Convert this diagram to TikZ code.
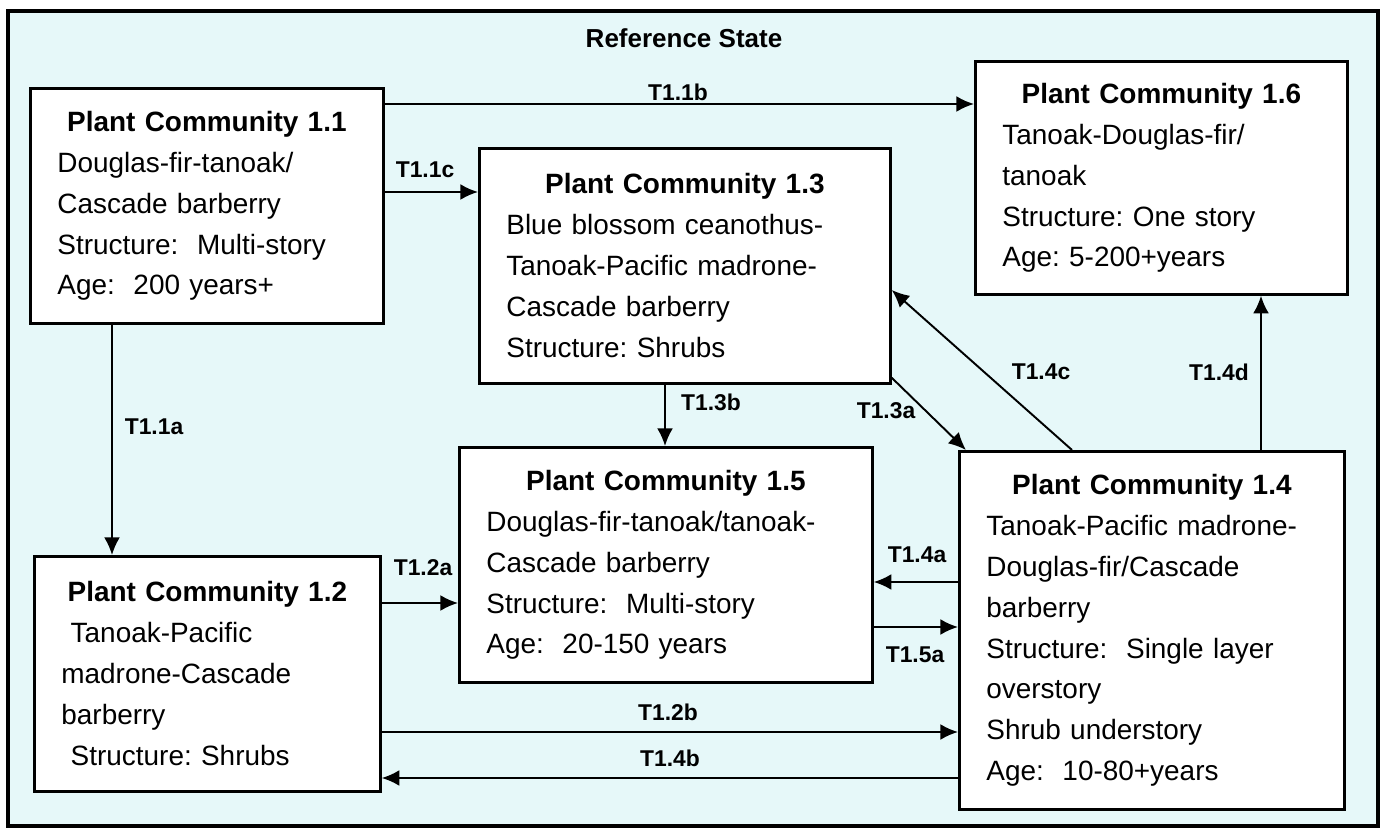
\documentclass[tikz,border=0pt]{standalone}
\usepackage[rgb]{xcolor}
\usepackage{fontspec}
\setmainfont{Liberation Sans}
\usepackage{tikz}
\usetikzlibrary{arrows.meta}
\frenchspacing

\definecolor{statebg}{RGB}{230,248,249}

\tikzset{
  community/.style={draw, line width=1.6pt, fill=white, anchor=north west,
    align=left, inner xsep=0.54cm, inner ysep=0pt, minimum height=4.7cm,
    font=\fontsize{15.9pt}{23.3pt}\selectfont},
  trans/.style={line width=1.1pt, -{Latex[length=10pt,width=9pt]}},
  translabel/.style={font=\fontsize{13pt}{15pt}\selectfont\bfseries}
}

\newcommand{\pctitle}[1]{\hfill\textbf{Plant Community #1}\hfill\null\\}

\begin{document}
\begin{tikzpicture}[x=0.02cm,y=-0.02cm]

\useasboundingbox (0,0) rectangle (1389,830);

% Draws the outer frame of the reference state
\draw [line width=2.2pt, fill=statebg] (8,11) rectangle (1378,826);
\node[translabel, font=\fontsize{14.8pt}{17pt}\selectfont\bfseries] (refstate) at (684,38) {Reference State};

% Draws the six plant community boxes
\node[community, text width=5.98cm] (pc11) at (29,87) {\pctitle{1.1}
Douglas-fir-tanoak/\\
Cascade barberry\\
Structure:\ \ Multi-story\\
Age:\ \ 200 years+};

\node[community, text width=5.84cm] (pc12) at (33,555) {\pctitle{1.2}
\ Tanoak-Pacific\\
madrone-Cascade\\
barberry\\
\ Structure: Shrubs};

\node[community, text width=7.14cm] (pc13) at (478,147) {\pctitle{1.3}
Blue blossom ceanothus-\\
Tanoak-Pacific madrone-\\
Cascade barberry\\
Structure: Shrubs};

\node[community, text width=6.62cm, minimum height=7.16cm] (pc14) at (958,450) {\pctitle{1.4}
Tanoak-Pacific madrone-\\
Douglas-fir/Cascade\\
barberry\\
Structure:\ \ Single layer\\
overstory\\
Shrub understory\\
Age:\ \ 10-80+years};

\node[community, text width=7.18cm] (pc15) at (458,446) {\pctitle{1.5}
Douglas-fir-tanoak/tanoak-\\
Cascade barberry\\
Structure:\ \ Multi-story\\
Age:\ \ 20-150 years};

\node[community, text width=6.36cm, minimum height=4.66cm] (pc16) at (974,60) {\pctitle{1.6}
Tanoak-Douglas-fir/\\
tanoak\\
Structure: One story\\
Age: 5-200+years};

% Draws the transitions between the communities
\draw [trans] (pc11.south -| 112,0) -- (pc12.north -| 112,0);
\draw [trans] (pc11.east |- 0,104) -- (pc16.west |- 0,104);
\draw [trans] (pc11.east |- 0,192) -- (pc13.west |- 0,192);
\draw [trans] (pc12.east |- 0,603) -- (pc15.west |- 0,603);
\draw [trans] (pc12.east |- 0,732) -- (pc14.west |- 0,732);
\draw [trans] (pc14.west |- 0,778) -- (pc12.east |- 0,778);
\draw [trans] (pc13.south -| 665,0) -- (pc15.north -| 665,0);
\draw [trans] ([yshift=0.14cm]pc13.south east) -- (pc14.north -| 966,0);
\draw [trans] (pc14.north -| 1072,0) -- (pc13.east |- 0,290);
\draw [trans] (pc14.north -| 1261,0) -- (pc16.south -| 1261,0);
\draw [trans] (pc14.west |- 0,582) -- (pc15.east |- 0,582);
\draw [trans] (pc15.east |- 0,627) -- (pc14.west |- 0,627);

% Writes out the transition labels
\node[translabel] (t11a) at (154,427) {T1.1a};
\node[translabel] (t11b) at (678,92) {T1.1b};
\node[translabel] (t11c) at (425,170) {T1.1c};
\node[translabel] (t12a) at (423,568) {T1.2a};
\node[translabel] (t12b) at (668,712) {T1.2b};
\node[translabel] (t14b) at (670,758) {T1.4b};
\node[translabel] (t13b) at (711,402) {T1.3b};
\node[translabel] (t13a) at (886,411) {T1.3a};
\node[translabel] (t14c) at (1041,372) {T1.4c};
\node[translabel] (t14d) at (1219,372) {T1.4d};
\node[translabel] (t14a) at (917,555) {T1.4a};
\node[translabel] (t15a) at (915,655) {T1.5a};

\end{tikzpicture}
\end{document}
